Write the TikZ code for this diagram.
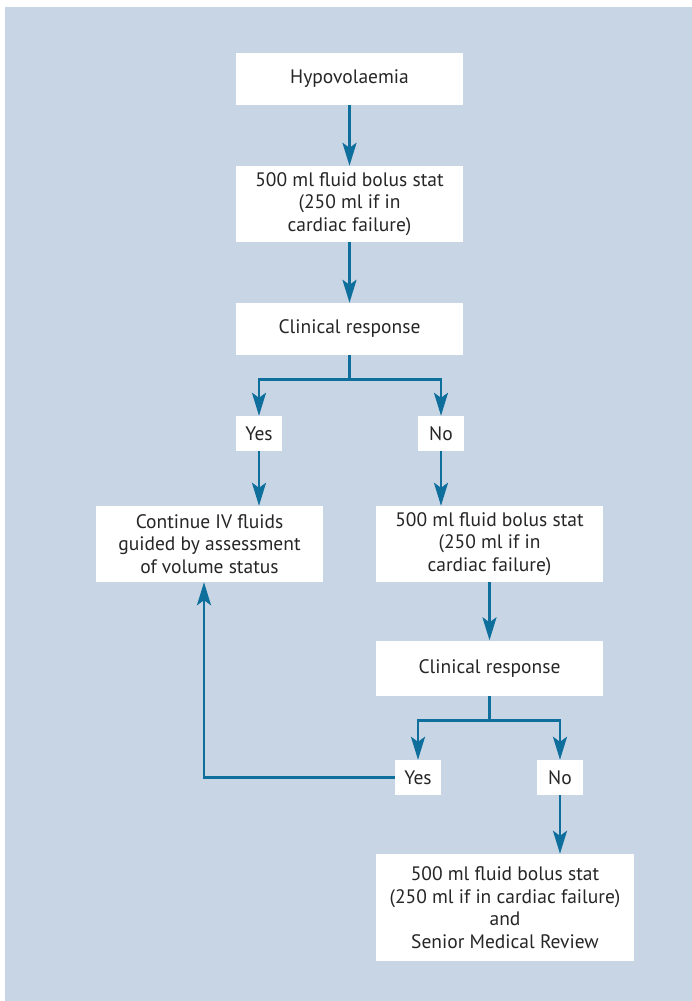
\documentclass[tikz,border=0pt]{standalone}
\usepackage{fontspec}
\setmainfont{PT Sans}
\usetikzlibrary{arrows.meta}

\definecolor{bgblue}{HTML}{C8D5E5}
\definecolor{flowblue}{HTML}{0E6E9C}
\definecolor{txtgray}{HTML}{262626}

\tikzset{
  box/.style={fill=white, text=txtgray, align=center, inner sep=0pt,
    font=\fontsize{19.5}{22.5}\selectfont},
  link/.style={draw=flowblue, line width=2.8pt,
    -{Stealth[length=23pt,width=14pt,inset=5pt]}},
  line/.style={draw=flowblue, line width=2.8pt}
}

\begin{document}
\begin{tikzpicture}[x=1pt, y=-1pt]
        % рамка
        \useasboundingbox (0,0) rectangle (692,1001);
        \path [fill=bgblue] (5,7) rectangle (692,1001);

        % блоки
        \node [box, minimum width=227pt, minimum height=52pt] (hypo) at (349.5,79) {Hypovolaemia};
        \node [box, minimum width=227pt, minimum height=76pt] (bolusa) at (349.5,204) {500 ml fluid bolus stat\\(250 ml if in\\cardiac failure)};
        \node [box, minimum width=227pt, minimum height=52pt] (respa) at (349.5,329) {Clinical response};
        \node [box, minimum width=46pt, minimum height=35pt] (yesa) at (259,433.5) {Yes};
        \node [box, minimum width=46pt, minimum height=35pt] (noa) at (441,433.5) {No};
        \node [box, minimum width=227pt, minimum height=76pt] (cont) at (209.5,544) {Continue IV fluids\\guided by assessment\\of volume status};
        \node [box, minimum width=227pt, minimum height=76pt] (bolusb) at (489.5,544) {500 ml fluid bolus stat\\(250 ml if in\\cardiac failure)};
        \node [box, minimum width=227pt, minimum height=55pt] (respb) at (489.5,668) {Clinical response};
        \node [box, minimum width=46pt, minimum height=35pt] (yesb) at (418,777.5) {Yes};
        \node [box, minimum width=46pt, minimum height=35pt] (nob) at (560,777.5) {No};
        \node [box, minimum width=258pt, minimum height=107pt] (final) at (505,907.5) {500 ml fluid bolus stat\\(250 ml if in cardiac failure)\\and\\Senior Medical Review};

        % стрелки
        \draw [link] (hypo) -- (bolusa);
        \draw [link] (bolusa) -- (respa);
        \draw [line] (respa.south) -- ++(0,24) coordinate (spla);
        \draw [link] (spla) -| (yesa.north);
        \draw [link] (spla) -| (noa.north);
        \draw [link] (yesa) -- (yesa |- cont.north);
        \draw [link] (noa) -- (noa |- bolusb.north);
        \draw [link] (bolusb) -- (bolusb |- respb.north);
        \draw [line] (respb.south) -- ++(0,25) coordinate (splb);
        \draw [link] (splb) -| (yesb.north);
        \draw [link] (splb) -| (nob.north);
        \draw [link] (yesb.west) -| (204,0 |- cont.south);
        \draw [link] (nob) -- (nob |- final.north);
    \end{tikzpicture}
\end{document}
